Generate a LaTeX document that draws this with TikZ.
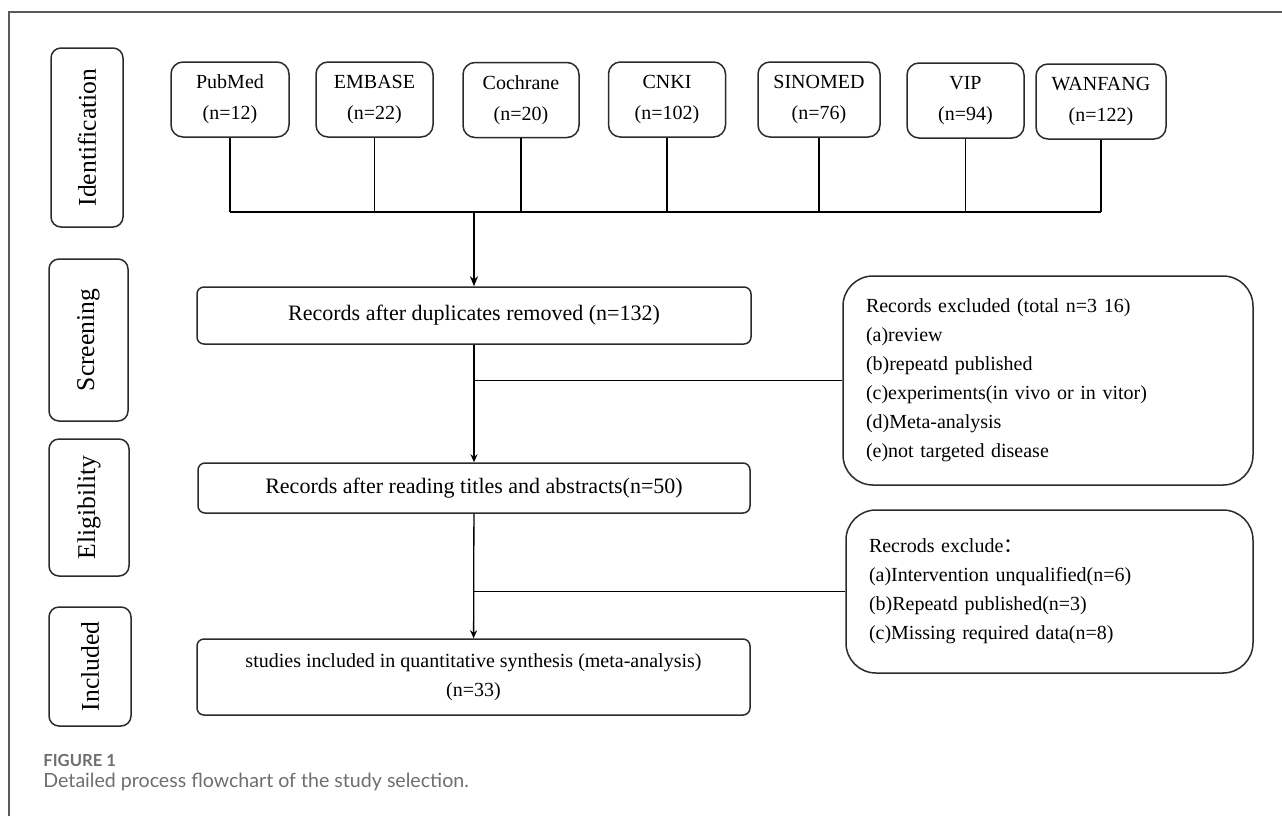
\documentclass[tikz,border=0pt]{standalone}
\usepackage{fontspec}
\setmainfont{Liberation Serif}
\newfontfamily\capfont{Lato}
\newfontfamily\cjk{Noto Sans CJK SC}
\usepackage{xcolor}
\usepackage{tikz}
\usetikzlibrary{positioning, arrows.meta, calc}
\definecolor{frameGray}{HTML}{5a5a5a}
\definecolor{capGray}{HTML}{6e6e6e}
\definecolor{lineDark}{HTML}{2b2b2b}

\begin{document}
\begin{tikzpicture}[x=0.5pt, y=-0.5pt, stage/.style={draw=lineDark, line width=0.75pt, rounded corners=5pt, rotate=90, inner sep=0pt, font=\fontsize{12.8}{14}\selectfont}, db/.style={draw=lineDark, line width=0.75pt, rounded corners=6pt, minimum height=37.5pt, inner sep=0pt, align=center, font=\fontsize{10}{15.5}\selectfont}, rec/.style={draw=lineDark, line width=0.75pt, rounded corners=3.5pt, inner sep=0pt, align=center, font=\fontsize{11}{14.5}\selectfont}, excl/.style={draw=lineDark, line width=0.75pt, rounded corners=15pt, inner xsep=11.5pt, text width=182pt, align=left, font=\fontsize{10}{14.5}\selectfont}, link/.style={draw=black, line width=0.65pt}, tip/.style={-{Stealth[length=4pt, width=3.5pt]}}, captext/.style={anchor=west, inner sep=0pt, text=capGray}]
\useasboundingbox (0,0) rectangle (1282,816);
\draw[frameGray, line width=0.65pt] (9,816) -- (9,12) -- (1282,12);
\node[stage, minimum width=89.5pt, minimum height=36pt] (ident) at (87,137.5) {Identification};
\node[stage, minimum width=81pt, minimum height=39.5pt] (screen) at (88.5,340) {Screening};
\node[stage, minimum width=68.5pt, minimum height=40pt] (elig) at (89,507.5) {Eligibility};
\node[stage, minimum width=59.5pt, minimum height=41pt] (incl) at (90,666.5) {Included};
\node[db, minimum width=59pt] (pubmed) at (230,99.5) {PubMed\\(n=12)};
\node[db, minimum width=58.5pt] (embase) at (374.5,99.5) {EMBASE\\(n=22)};
\node[db, minimum width=58pt] (cochrane) at (521,100) {Cochrane\\(n=20)};
\node[db, minimum width=58.5pt] (cnki) at (667,99.5) {CNKI\\(n=102)};
\node[db, minimum width=61pt] (sinomed) at (819,99.5) {SINOMED\\(n=76)};
\node[db, minimum width=58.5pt] (vip) at (965.5,100.5) {VIP\\(n=94)};
\node[db, minimum width=65pt] (wanfang) at (1101,101.5) {WANFANG\\(n=122)};
\node[rec, minimum width=277pt, minimum height=28.5pt] (dedup) at (474,315.5) {Records after duplicates removed (n=132)};
\node[rec, minimum width=276pt, minimum height=25pt] (abstr) at (474,488) {Records after reading titles and abstracts(n=50)};
\node[rec, minimum width=276.5pt, minimum height=38pt, font=\fontsize{10}{14.5}\selectfont] (incstudy) at (473.5,677) {studies included in quantitative synthesis (meta-analysis)\\(n=33)};
\node[excl, minimum height=104.5pt] (excl1) at (1048,380.5) {Records excluded (total n=3 16)\\(a)review\\(b)repeatd published\\(c)experiments(in vivo or in vitor)\\(d)Meta-analysis\\(e)not targeted disease};
\node[excl, text width=180.5pt, minimum height=81.5pt] (excl2) at (1049.5,591.5) {Recrods exclude{\cjk ：}\\(a)Intervention unqualified(n=6)\\(b)Repeatd published(n=3)\\(c)Missing required data(n=8)};
\coordinate (busy) at (0,212);
\foreach \db in {pubmed,embase,cochrane,cnki,sinomed,vip,wanfang} \draw[link] (\db.south) -- (\db.south |- busy);
\draw[link] (pubmed.south |- busy) -- (wanfang.south |- busy);
\draw[link, line width=1.2pt, -{Stealth[length=5pt, width=4pt]}] (dedup.north |- busy) -- (dedup.north);
\draw[link, tip] (dedup) -- (abstr);
\draw[link, tip] (abstr) -- (incstudy);
\draw[link] (dedup.south |- excl1.west) -- (excl1.west);
\draw[link] (abstr.south |- excl2.west) -- (excl2.west);
\node[captext, font=\capfont\bfseries\fontsize{8.3}{10}\selectfont] (figlbl) at (43,760) {FIGURE 1};
\node[captext, font=\capfont\fontsize{9.8}{11}\selectfont] (figtxt) at (43,782) {Detailed process flowchart of the study selection.};
\end{tikzpicture}
\end{document}
